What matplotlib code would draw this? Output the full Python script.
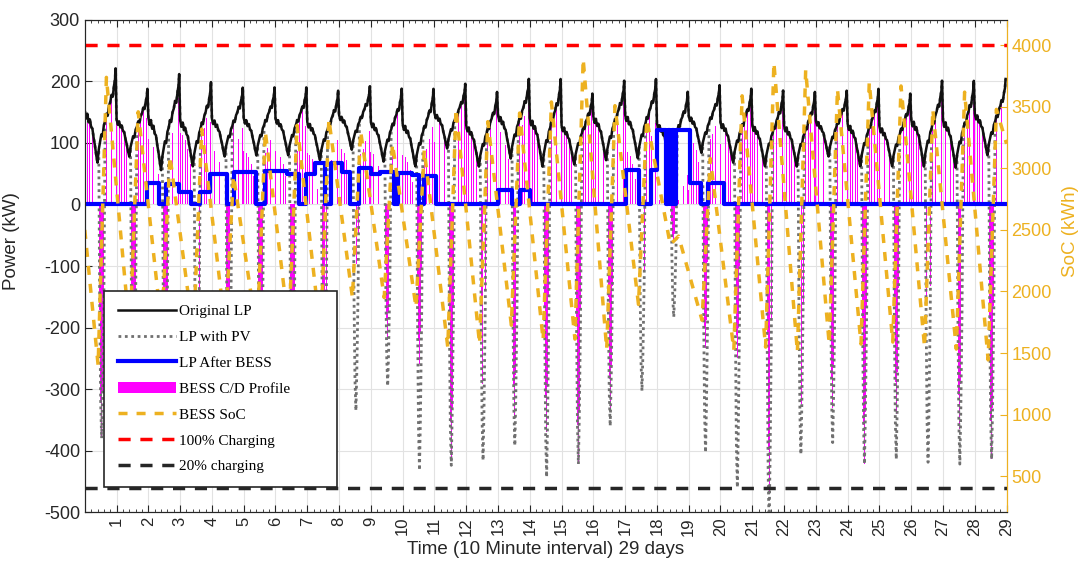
import numpy as np
import matplotlib.pyplot as plt
from matplotlib.ticker import MultipleLocator

plt.rcParams['font.family'] = ['Liberation Sans', 'DejaVu Sans']
plt.rcParams['axes.unicode_minus'] = False

# ---- data ----
# original load, daily peak (near the day tick) and trough (kW)
load_peak = [221, 188, 212, 199, 190, 190, 190, 185, 192, 188, 188, 196, 183, 204, 204,
             180, 201, 204, 183, 194, 188, 185, 183, 185, 188, 180, 201, 201, 204]
load_trough = [68, 78, 56, 62, 78, 80, 80, 72, 89, 70, 62, 91, 62, 75, 62,
               65, 72, 75, 70, 84, 68, 62, 62, 78, 62, 62, 62, 60, 80]
# typical daily shape of the load (0 = trough, 1 = peak)
day_phase = [0.00, 0.04, 0.08, 0.12, 0.16, 0.20, 0.24, 0.28, 0.32, 0.36, 0.40, 0.44,
             0.48, 0.52, 0.56, 0.60, 0.64, 0.68, 0.72, 0.76, 0.80, 0.84, 0.88, 0.92, 0.95, 0.97]
day_shape = [0.55, 0.47, 0.52, 0.43, 0.46, 0.38, 0.36, 0.26, 0.18, 0.08, 0.00, 0.14,
             0.22, 0.30, 0.28, 0.40, 0.44, 0.52, 0.50, 0.60, 0.64, 0.72, 0.70, 0.82, 0.88, 1.00]

# midday PV dip of the load with PV (kW) and of the BESS charge (kW)
pv_min = [-380, -400, -360, -420, -390, -410, -380, -400, -335, -295, -432, -424, -416, -392, -443,
          -422, -360, -303, -183, -403, -460, -520, -406, -387, -422, -414, -419, -422, -414]
bess_min = [-380, -400, -360, -420, -390, -410, -380, -400, -120, -220, -260, -416, -343, -347, -370,
            -422, -333, -273, -60, -234, -250, -470, -406, -330, -422, -340, -330, -365, -414]
dip_phase = [0.47, 0.50, 0.53, 0.56, 0.60]
dip_shape = [0.45, 0.85, 1.00, 0.80, 0.40]

# load after BESS, step levels (day, kW)
after_t = [0, 1.95, 2.33, 2.56, 2.95, 3.35, 3.64, 3.95, 4.48, 4.70, 5.40, 5.68, 6.35, 6.75, 6.95,
           7.25, 7.55, 7.75, 8.08, 8.34, 8.64, 9.00, 9.30, 9.73, 9.85, 10.30, 10.50, 10.66, 11.05,
           13.00, 13.45, 13.70, 14.00, 17.03, 17.45, 17.80, 18.00, 18.30, 18.36, 18.42, 18.48,
           18.54, 18.60, 19.05, 19.40, 19.60, 20.10, 29.0]
after_v = [0, 35, 0, 34, 21, 0, 20, 49, 0, 53, 0, 54, 50, 0, 50,
           67, 0, 67, 53, 0, 60, 50, 53, 0, 51, 48, 0, 47, 0,
           24, 0, 24, 0, 56, 0, 56, 121, 0, 121, 0, 121,
           0, 121, 35, 0, 35, 0, 0]

# BESS state of charge (kWh): low before charging, high after charging
soc_start, soc_end = 2500, 3200
soc_low = [1400, 1650, 1700, 1650, 1700, 1650, 1700, 1650, 1950, 1950, 1871, 1548, 1573, 1726, 1605,
           1613, 1532, 1895, 2380, 1766, 1524, 1548, 1508, 1573, 1573, 1589, 1548, 1532, 1444]
soc_high = [3740, 3460, 3100, 3320, 2940, 3300, 3350, 3400, 3300, 3200, 3150, 3484, 3380, 3450, 3540,
            3890, 3510, 3400, 2450, 3080, 3590, 3860, 3800, 3645, 3700, 3670, 3480, 3620, 3480]
soc_full, soc_20 = 4000, 400

n_days = len(load_peak)
day_labels = [str(d) for d in range(1, n_days + 1)]

# ---- build the series ----
t_load, v_load, t_pv, v_pv = [], [], [], []
bar_t, bar_v = [], []
bar_idx = [0, 2, 4, 6, 8, 17, 19, 21, 24]


def after_at(t):
    i = np.searchsorted(after_t, t, side='right') - 1
    return after_v[i]


for d in range(n_days):
    lo, hi = load_trough[d], load_peak[d]
    vals = [lo + s * (hi - lo) for s in day_shape]
    t_load += [d + p for p in day_phase]
    v_load += vals
    for p, v in zip(day_phase, vals):
        if p <= 0.44:
            t_pv.append(d + p)
            v_pv.append(v)
    for p, f in zip(dip_phase, dip_shape):
        t_pv.append(d + p)
        v_pv.append(f * pv_min[d])
        bar_t.append(d + p)
        bar_v.append(f * bess_min[d])
    for p, v in zip(day_phase, vals):
        if p >= 0.64:
            t_pv.append(d + p)
            v_pv.append(v)
    for i in bar_idx:
        t = d + day_phase[i]
        bar_t.append(t)
        bar_v.append(max(vals[i] - after_at(t), 0))

t_soc = [0]
v_soc = [soc_start]
for d in range(n_days):
    t_soc += [d + 0.42, d + 0.68]
    v_soc += [soc_low[d], soc_high[d]]
t_soc.append(n_days)
v_soc.append(soc_end)

# ---- plot ----
gold = '#EDB120'
dark = '#262626'
fig = plt.figure(figsize=(10.87, 5.69), dpi=100)
ax = fig.add_axes([0.078, 0.1, 0.848, 0.865])
ax2 = ax.twinx()

bars = ax.bar(bar_t, bar_v, width=0.025, color='#FF00FF', linewidth=0, zorder=2,
              label='BESS C/D Profile')
l_pv, = ax.plot(t_pv, v_pv, color='#707070', lw=2, ls=(0, (1, 1.3)), zorder=3,
                label='LP with PV')
l_orig, = ax.plot(t_load, v_load, color='#111111', lw=1.8, zorder=4, label='Original LP')
l_after, = ax.step(after_t, after_v, where='post', color='#0000FF', lw=3, zorder=5,
                   label='LP After BESS')

l_soc, = ax2.plot(t_soc, v_soc, color=gold, lw=2.5, ls=(0, (2.6, 2.6)), label='BESS SoC')
l_full = ax2.axhline(soc_full, color='#FF0000', lw=2.5, ls=(0, (3.5, 2.8)), label='100% Charging')
l_20 = ax2.axhline(soc_20, color=dark, lw=2.5, ls=(0, (3.5, 2.8)), label='20% charging')

ax.set_xlim(0, n_days)
ax.set_ylim(-500, 300)
ax.set_yticks(np.arange(-500, 301, 100))
ax2.set_ylim(207, 4207)
ax2.set_yticks(np.arange(500, 4001, 500))

ax.set_xticks(np.arange(1, n_days + 1))
ax.set_xticklabels(day_labels, rotation=90)
ax.xaxis.set_minor_locator(MultipleLocator(0.2))
ax.grid(True, which='major', color='#e2e2e2', lw=0.8)
ax.set_axisbelow(True)

ax.tick_params(axis='x', which='both', direction='in', top=True, labelsize=12, colors=dark)
ax.tick_params(axis='x', which='major', length=5)
ax.tick_params(axis='x', which='minor', length=2.5)
ax.tick_params(axis='y', direction='in', length=5, labelsize=13, colors=dark)
ax2.tick_params(axis='y', direction='in', length=5, labelsize=13, colors=gold)

for s in ['left', 'bottom', 'top']:
    ax.spines[s].set_color(dark)
    ax2.spines[s].set_color(dark)
ax2.spines['right'].set_color(gold)
ax.spines['right'].set_color(gold)

ax.set_xlabel('Time (10 Minute interval) 29 days', fontsize=13.5, color=dark)
ax.set_ylabel('Power (kW)', fontsize=13.5, color=dark)
ax.yaxis.set_label_coords(-0.07, 0.55)
ax2.set_ylabel('SoC (kWh)', fontsize=13.5, color=gold)
ax2.yaxis.set_label_coords(1.06, 0.57)

handles = [l_orig, l_pv, l_after, bars, l_soc, l_full, l_20]
leg = ax2.legend(handles=handles, loc='lower left', bbox_to_anchor=(0.013, 0.035, 0.269, 0.407),
                 mode='expand', prop={'family': 'Liberation Serif', 'size': 11},
                 frameon=True, fancybox=False, framealpha=1, edgecolor=dark,
                 handlelength=3.8, handletextpad=0.2, labelspacing=0.8, borderpad=0.9)
leg.get_frame().set_linewidth(1.2)

fig.savefig('out.png', dpi=100)
